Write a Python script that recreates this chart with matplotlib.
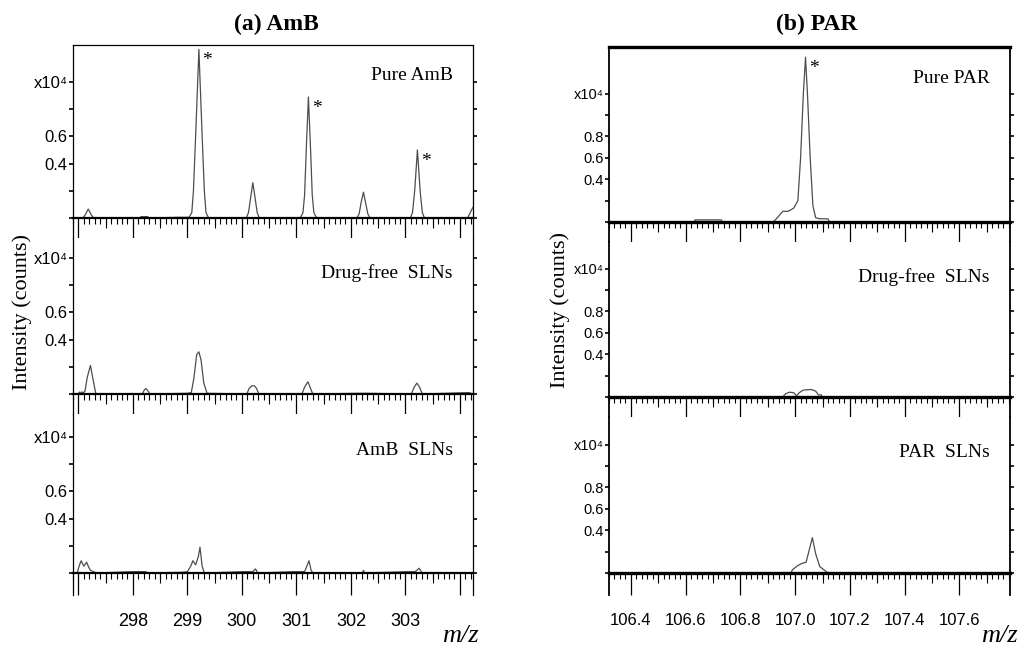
import numpy as np
import matplotlib.pyplot as plt

# --- data (m/z, intensity in units of 1e4 counts) ---
# (a) AmB
amb_pure_mz = [296.93, 297.08, 297.12, 297.18, 297.24, 297.28, 298.12, 298.15, 298.27, 298.30,
               298.83, 299.03, 299.08, 299.11, 299.15, 299.21, 299.27, 299.31, 299.34, 299.39,
               300.08, 300.12, 300.16, 300.20, 300.24, 300.28, 300.32,
               301.07, 301.12, 301.15, 301.18, 301.22, 301.26, 301.29, 301.32, 301.37,
               302.11, 302.15, 302.19, 302.23, 302.27, 302.31, 302.35,
               303.09, 303.13, 303.17, 303.22, 303.27, 303.31, 303.35,
               304.14, 304.19, 304.24]
amb_pure_i = [0, 0, 0.02, 0.066, 0.02, 0, 0, 0.01, 0.01, 0,
              0.005, 0.005, 0.04, 0.2, 0.6, 1.24, 0.6, 0.2, 0.04, 0,
              0, 0.04, 0.15, 0.26, 0.15, 0.04, 0,
              0, 0.04, 0.17, 0.5, 0.89, 0.5, 0.17, 0.04, 0,
              0, 0.03, 0.12, 0.19, 0.11, 0.03, 0,
              0, 0.04, 0.2, 0.50, 0.2, 0.04, 0,
              0, 0.04, 0.08]

amb_free_mz = [296.93, 297.00, 297.02, 297.04, 297.06, 297.09, 297.12, 297.16, 297.22, 297.28,
               297.32, 298.17, 298.21, 298.24, 298.28, 298.31, 299.00, 299.07, 299.12, 299.17,
               299.21, 299.25, 299.30, 299.36, 300.09, 300.13, 300.18, 300.23, 300.27, 300.31,
               301.10, 301.15, 301.21, 301.26, 301.30, 302.14, 302.30, 303.11, 303.16, 303.21,
               303.26, 303.31, 304.13, 304.17, 304.24]
amb_free_i = [0, 0, 0.015, 0, 0.015, 0.01, 0.02, 0.12, 0.21, 0.08,
              0, 0, 0.03, 0.04, 0.02, 0, 0.005, 0.01, 0.12, 0.29,
              0.31, 0.25, 0.08, 0.005, 0, 0.04, 0.06, 0.06, 0.04, 0,
              0, 0.05, 0.09, 0.04, 0, 0.005, 0.005, 0, 0.05, 0.08,
              0.05, 0, 0.01, 0.01, 0]

amb_sln_mz = [296.93, 296.98, 297.02, 297.05, 297.10, 297.15, 297.18, 297.22, 297.30, 297.34,
              297.98, 298.24, 298.26, 298.90, 299.00, 299.06, 299.10, 299.15, 299.20, 299.23,
              299.27, 299.31, 300.05, 300.20, 300.25, 300.29, 300.95, 301.15, 301.20, 301.23,
              301.27, 301.30, 302.21, 302.23, 302.25, 303.05, 303.18, 303.21, 303.25, 303.30,
              303.33, 304.24]
amb_sln_i = [0, 0.005, 0.06, 0.09, 0.05, 0.08, 0.05, 0.02, 0.005, 0,
             0.01, 0.01, 0, 0.005, 0.01, 0.05, 0.09, 0.06, 0.12, 0.19,
             0.05, 0, 0.01, 0.01, 0.03, 0, 0.01, 0.01, 0.06, 0.09,
             0.02, 0, 0, 0.02, 0, 0.01, 0.01, 0.02, 0.035, 0.005,
             0, 0]

# (b) PAR
par_pure_mz = [106.33, 106.63, 106.635, 106.73, 106.735, 106.92, 106.935, 106.955, 106.975, 106.995,
               107.01, 107.02, 107.03, 107.038, 107.045, 107.055, 107.065, 107.075, 107.09, 107.12,
               107.125, 107.785]
par_pure_i = [0, 0, 0.02, 0.02, 0, 0, 0.04, 0.10, 0.10, 0.13,
              0.2, 0.6, 1.2, 1.54, 1.2, 0.6, 0.15, 0.04, 0.03, 0.03,
              0, 0]

par_free_mz = [106.33, 106.955, 106.965, 106.98, 106.995, 107.005, 107.015, 107.03, 107.06, 107.075,
               107.085, 107.095, 107.10, 107.785]
par_free_i = [0, 0, 0.03, 0.045, 0.04, 0.01, 0.04, 0.065, 0.07, 0.055,
              0.02, 0.02, 0, 0]

par_sln_mz = [106.33, 106.985, 106.99, 107.01, 107.025, 107.04, 107.05, 107.063, 107.075, 107.09,
              107.11, 107.12, 107.785]
par_sln_i = [0, 0, 0.03, 0.07, 0.09, 0.10, 0.2, 0.33, 0.18, 0.06,
             0.02, 0, 0]

amb_stars = [299.21, 301.22, 303.22]
par_stars = [107.038]

amb_names = ['Pure AmB', 'Drug-free  SLNs', 'AmB  SLNs']
par_names = ['Pure PAR', 'Drug-free  SLNs', 'PAR  SLNs']
amb_xticks = [297, 298, 299, 300, 301, 302, 303, 304]
amb_xlabels = ['', '298', '299', '300', '301', '302', '303', '']
par_xticks = [106.4, 106.6, 106.8, 107.0, 107.2, 107.4, 107.6]
par_xlabels = ['106.4', '106.6', '106.8', '107.0', '107.2', '107.4', '107.6']

W, H = 1020, 652
fig = plt.figure(figsize=(W / 100, H / 100), dpi=100)

narrow = ['Liberation Sans', 'DejaVu Sans']
serif = ['Liberation Serif', 'DejaVu Serif']


def column(x0, x1, rows, pxu, xlim, data, names, stars, xticks, xlabels, xfs,
           minor_step, mid_ticks, yticks, ylabels, yfs, base_lw, frame_lw, top_lw):
    axes = []
    for k, (top, base, bottom) in enumerate(rows):
        ax = fig.add_axes([x0 / W, 1 - bottom / H, (x1 - x0) / W, (bottom - top) / H])
        ylo = -(bottom - base) / pxu
        yhi = (base - top) / pxu
        mz, inten = data[k]
        ax.plot(mz, inten, color='0.3', lw=0.9, clip_on=False)
        ax.set_xlim(xlim)
        ax.set_ylim(ylo, yhi)
        for s in ['left', 'right']:
            ax.spines[s].set_linewidth(frame_lw)
        ax.spines['top'].set_visible(k == 0)
        ax.spines['top'].set_linewidth(top_lw)
        ax.spines['bottom'].set_position(('data', 0))
        ax.spines['bottom'].set_linewidth(base_lw)

        # x ticks: long at majors, short minors
        ax.set_xticks(xticks)
        ax.set_xticks(np.arange(xlim[0] - xlim[0] % minor_step, xlim[1], minor_step), minor=True)
        ax.tick_params(axis='x', which='major', direction='out', length=15.5, width=0.9)
        ax.tick_params(axis='x', which='minor', direction='out', length=4.5, width=0.8)
        if k == len(rows) - 1:
            ax.set_xticklabels(xlabels, family=narrow, fontsize=xfs)
            ax.tick_params(axis='x', which='major', pad=13)
        else:
            ax.set_xticklabels([])
        # medium ticks at the half steps
        loc = -ylo / (yhi - ylo)
        sec = ax.secondary_xaxis(loc)
        sec.set_xticks(mid_ticks)
        sec.set_xticklabels([])
        sec.tick_params(direction='out', length=7, width=0.8)
        for s in sec.spines.values():
            s.set_visible(False)

        ax.set_yticks(yticks)
        ax.set_yticklabels(ylabels, family=narrow, fontsize=yfs)
        ax.tick_params(axis='y', direction='out', length=3, width=1.2, pad=1,
                       left=True, right=True)

        ax.text(0.95, 0.84 if k == 0 else 0.8, names[k], transform=ax.transAxes,
                ha='right', va='center', family=serif, fontsize=14)
        for s in stars if k == 0 else []:
            j = mz.index(s)
            ax.annotate('*', (mz[j], inten[j]), xytext=(2.5, -8), textcoords='offset points',
                        ha='left', va='center', family=serif, fontsize=14)
        axes.append(ax)
    return axes


amb_rows = [(45, 218, 238), (238, 394, 414), (414, 573, 595)]
par_rows = [(47, 222, 242), (242, 397, 417), (417, 573, 595)]

column(73, 473, amb_rows, 136, (296.93, 304.24),
       [(amb_pure_mz, amb_pure_i), (amb_free_mz, amb_free_i), (amb_sln_mz, amb_sln_i)],
       amb_names, amb_stars, amb_xticks, amb_xlabels, 13, 0.1,
       [297.5, 298.5, 299.5, 300.5, 301.5, 302.5, 303.5],
       [0, 0.2, 0.4, 0.6, 0.8, 1.0], ['', '', '0.4', '0.6', '', 'x10⁴'], 12,
       1.6, 0.9, 0.9)

column(609, 1010, par_rows, 107, (106.33, 107.785),
       [(par_pure_mz, par_pure_i), (par_free_mz, par_free_i), (par_sln_mz, par_sln_i)],
       par_names, par_stars, par_xticks, par_xlabels, 12, 0.02,
       [106.5, 106.7, 106.9, 107.1, 107.3, 107.5, 107.7],
       [0, 0.2, 0.4, 0.6, 0.8, 1.0, 1.2], ['', '', '0.4', '0.6', '0.8', '', 'x10⁴'], 10.5,
       2.4, 1.3, 2.4)

fig.text(276 / W, 1 - 24 / H, '(a) AmB', ha='center', va='center',
         family=serif, fontsize=17, fontweight='bold')
fig.text(817 / W, 1 - 24 / H, '(b) PAR', ha='center', va='center',
         family=serif, fontsize=17, fontweight='bold')
fig.text(22 / W, 1 - 312 / H, 'Intensity (counts)', rotation=90, ha='center', va='center',
         family=serif, fontsize=16)
fig.text(560 / W, 1 - 310 / H, 'Intensity (counts)', rotation=90, ha='center', va='center',
         family=serif, fontsize=16)
fig.text(460 / W, 1 - 636 / H, 'm/z', ha='center', va='center',
         family=serif, fontsize=19, style='italic')
fig.text(999 / W, 1 - 636 / H, 'm/z', ha='center', va='center',
         family=serif, fontsize=19, style='italic')

fig.savefig('out.png', dpi=100)
